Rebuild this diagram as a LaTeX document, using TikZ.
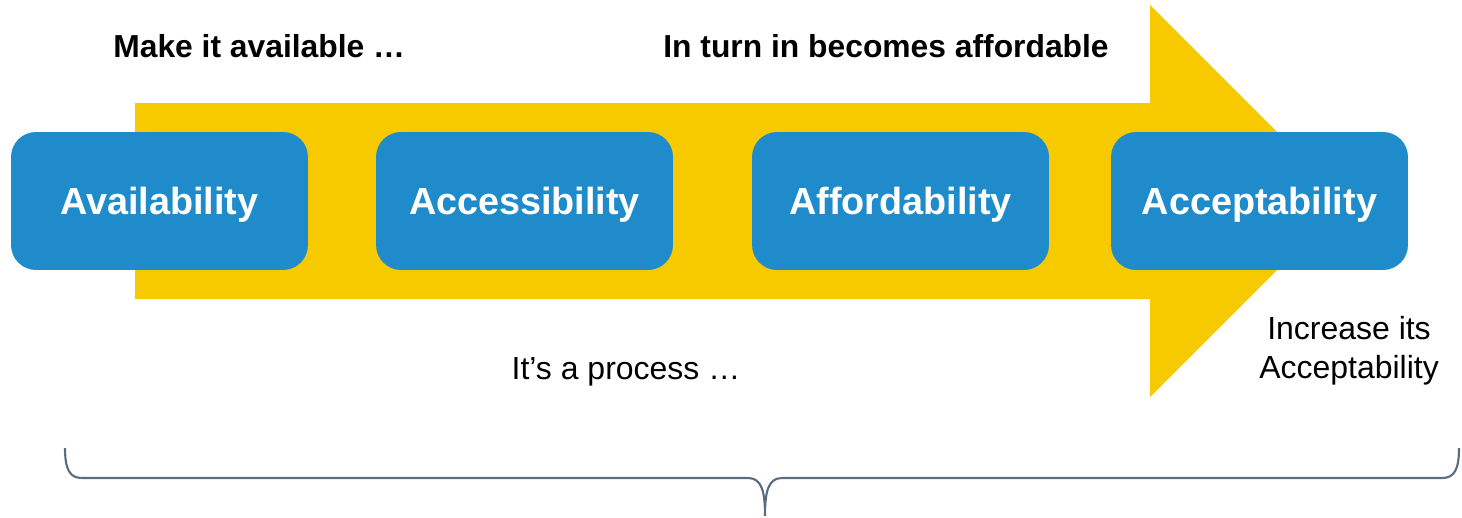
\documentclass[tikz,border=0pt]{standalone}
\usepackage{fontspec}
\setmainfont{Liberation Sans}
\usepackage{tikz}
\definecolor{stageblue}{HTML}{1F8BCA}
\definecolor{flowyellow}{HTML}{F7CA00}
\definecolor{braceslate}{HTML}{5B6B80}

\begin{document}
\begin{tikzpicture}[x=0.02cm,y=-0.02cm,
  stage/.style = {rounded corners=0.5cm, fill=stageblue, text=white,
    minimum width=5.94cm, minimum height=2.76cm, inner sep=0pt,
    text depth=0pt, font=\fontsize{21.5}{25}\selectfont\bfseries},
  headline/.style = {anchor=west, inner sep=0pt,
    font=\fontsize{18.1}{21}\selectfont\bfseries},
  note/.style = {align=center, inner sep=0pt,
    font=\fontsize{18.2}{22}\selectfont}]
  \useasboundingbox (0,0) rectangle (1462,517);
  % the big arrow behind the stages
  \fill[flowyellow] (135,103) -- (1150,103) -- (1150,5) -- (1346,201)
    -- (1150,397) -- (1150,299) -- (135,299) -- cycle;
  % stages
  \node[stage] (avail)  at (159.5,201) {Availability};
  \node[stage] (access) at (524.5,201) {Accessibility};
  \node[stage] (afford) at (900.5,201) {Affordability};
  \node[stage] (accept) at (1259.5,201) {Acceptability};
  % texts
  \node[headline] (make) at (113,46) {Make it available …};
  \node[headline] (turn) at (663,46) {In turn in becomes affordable};
  \node[note] (process) at (626,372) {It’s a process …};
  \node[note] (increase) at (1349,351) {Increase its\\Acceptability};
  % brace
  \draw[braceslate, line width=1.2pt] (65,448)
    .. controls (65,470) and (70,478) .. (82,478) -- (748,478)
    .. controls (762,478) and (765,492) .. (765,516)
    .. controls (765,492) and (768,478) .. (782,478) -- (1442,478)
    .. controls (1454,478) and (1459,470) .. (1459,448);
\end{tikzpicture}
\end{document}
